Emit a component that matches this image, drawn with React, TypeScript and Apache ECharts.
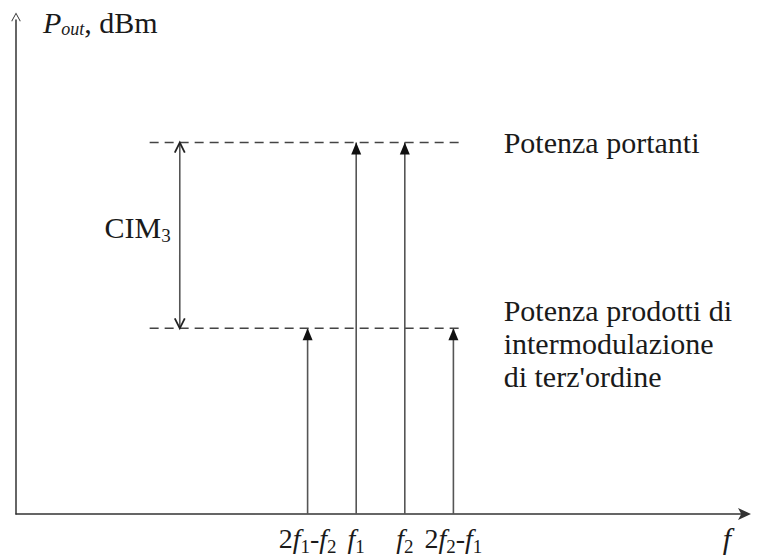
import React, { useEffect, useRef } from "react";
import * as echarts from "echarts";

const FONT = '"Liberation Serif", "Times New Roman", serif';

// Two carriers f1, f2 and their third-order intermodulation products
const toneFreqs = [6, 7, 8, 9];
const tonePower = [5, 10, 10, 5];
const toneTickLabels = [
  "{n|2}{i|f}{s|1}{n|-}{i|f}{s|2}",
  "{i|f}{s|1}",
  "{i|f}{s|2}",
  "{n|2}{i|f}{s|2}{n|-}{i|f}{s|1}",
];

// Reference power levels (dashed lines) and their captions
const carrierLevel = 10;
const imLevel = 5;
const levelSpan = [2.75, 9.15];
const carrierCaption = "Potenza portanti";
const imCaption = "Potenza prodotti di\nintermodulazione\ndi terz'ordine";

// CIM3 dimension arrow
const cimX = 3.37;
const cimCaption = "{n|CIM}{s|3}";

const xRange = [0, 15];
const yRange = [0, 13.3];

const INK = "#1a1a1a";
const LINE = "#555";

const richText = (size: number, sub: number, drop: number) => ({
  n: { fontFamily: FONT, fontSize: size, color: INK },
  i: { fontFamily: FONT, fontSize: size, fontStyle: "italic", color: INK },
  s: { fontFamily: FONT, fontSize: sub, color: INK, padding: [drop, 0, 0, 0] },
  si: { fontFamily: FONT, fontSize: sub, fontStyle: "italic", color: INK, padding: [drop, 0, 0, 0] },
});

const ARROW_UP = "path://M0,0 L5,12 L-5,12 Z";
const CHEVRON_UP = "path://M-5,10 L0,0 L5,10";
const CHEVRON_DOWN = "path://M-5,0 L0,10 L5,0";
const AXIS_CHEVRON = "path://M-5,9 L0,0 L5,9 L4.2,9.6 L0,1.8 L-4.2,9.6 Z";

export default function App() {
  const ref = useRef<HTMLDivElement>(null);

  useEffect(() => {
    document.body.style.margin = "0";
    const chart = echarts.init(ref.current!, null, { renderer: "svg" });

    const toneSeries = toneFreqs.map((f, k) => ({
      type: "line",
      silent: true,
      data: [
        { value: [f, 0], symbol: "none" },
        {
          value: [f, tonePower[k]],
          symbol: ARROW_UP,
          symbolSize: [10, 12],
          symbolOffset: [0, 6],
        },
      ],
      lineStyle: { color: LINE, width: 1.6 },
      itemStyle: { color: "#111" },
    }));

    const levelSeries = [
      { level: carrierLevel, caption: carrierCaption, dy: 0 },
      { level: imLevel, caption: imCaption, dy: 15 },
    ].map((d) => ({
      type: "line",
      silent: true,
      symbol: "none",
      data: [
        [levelSpan[0], d.level],
        [levelSpan[1], d.level],
      ],
      lineStyle: { color: "#444", width: 1.5, type: [9, 6] },
      endLabel: {
        show: true,
        formatter: d.caption,
        distance: 43,
        offset: [0, d.dy],
        fontFamily: FONT,
        fontSize: 30,
        lineHeight: 33,
        color: INK,
        align: "left",
        verticalAlign: "middle",
      },
    }));

    const cimSeries = {
      type: "line",
      silent: true,
      data: [
        {
          value: [cimX, imLevel],
          symbol: CHEVRON_DOWN,
          symbolSize: [10, 10],
          symbolOffset: [0, -5],
        },
        {
          value: [cimX, (imLevel + carrierLevel) / 2],
          symbol: "circle",
          symbolSize: 0,
          label: {
            show: true,
            position: "left",
            distance: 9,
            offset: [0, -8],
            formatter: cimCaption,
            rich: richText(30, 19, 16),
          },
        },
        {
          value: [cimX, carrierLevel],
          symbol: CHEVRON_UP,
          symbolSize: [10, 10],
          symbolOffset: [0, 5],
        },
      ],
      lineStyle: { color: LINE, width: 1.6 },
      itemStyle: { color: "none", borderColor: "#222", borderWidth: 1.8 },
    };

    chart.setOption({
      animation: false,
      grid: { left: 16, right: 15, top: 20, bottom: 44, containLabel: false },
      xAxis: {
        type: "value",
        min: xRange[0],
        max: xRange[1],
        name: "f",
        nameLocation: "end",
        nameGap: -18,
        nameTextStyle: {
          fontFamily: FONT,
          fontSize: 30,
          fontStyle: "italic",
          color: INK,
          align: "center",
          verticalAlign: "top",
          padding: [9, 0, 0, 0],
        },
        axisLine: {
          show: true,
          symbol: ["none", "arrow"],
          symbolSize: [9, 13],
          symbolOffset: [0, 6],
          lineStyle: { color: "#333", width: 1.5 },
        },
        axisTick: { show: false },
        splitLine: { show: false },
        axisLabel: {
          customValues: toneFreqs,
          margin: 7,
          formatter: (v: number) => toneTickLabels[toneFreqs.indexOf(v)] ?? "",
          rich: richText(28, 19, 16),
        },
      },
      yAxis: {
        type: "value",
        min: yRange[0],
        max: yRange[1],
        name: "{i|P}{si|out}{n|, dBm}",
        nameLocation: "end",
        nameGap: -2,
        nameTextStyle: {
          align: "left",
          verticalAlign: "middle",
          padding: [0, 0, 0, 27],
          rich: richText(30, 18, 14),
        },
        axisLine: {
          show: true,
          symbol: ["none", AXIS_CHEVRON],
          symbolSize: [10, 9],
          symbolOffset: [0, 3],
          lineStyle: { color: "#333", width: 1.5 },
        },
        axisTick: { show: false },
        splitLine: { show: false },
        axisLabel: { show: false },
      },
      series: [...levelSeries, ...toneSeries, cimSeries],
    });

    return () => chart.dispose();
  }, []);

  return <div ref={ref} style={{ width: 760, height: 558 }} />;
}
